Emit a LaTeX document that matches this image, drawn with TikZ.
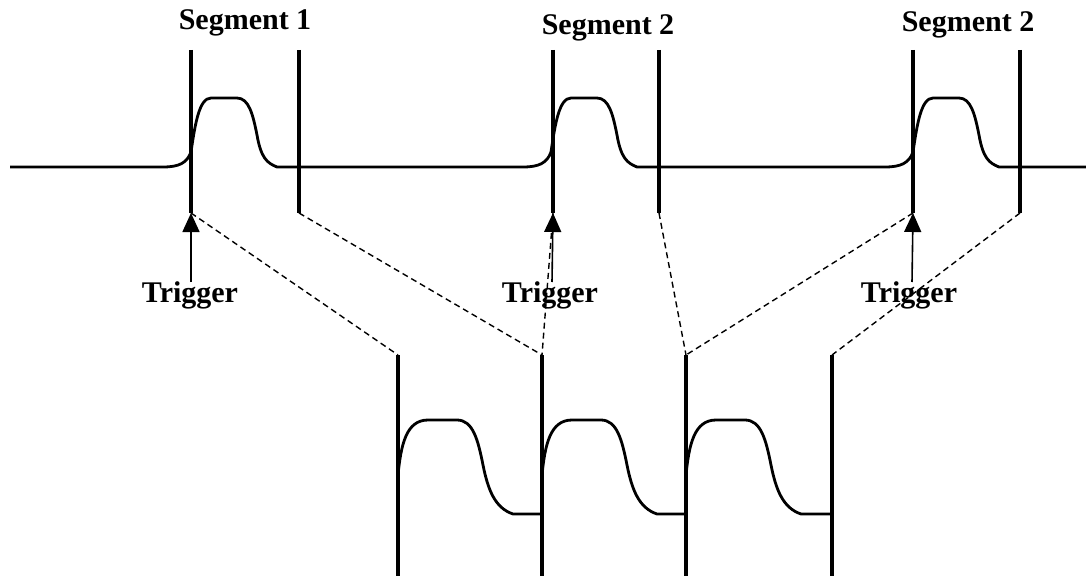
\documentclass[tikz,border=0pt]{standalone}
\usepackage{fontspec}
\setmainfont{Liberation Serif}
\usetikzlibrary{arrows.meta}
\begin{document}
\begin{tikzpicture}[x=1pt,y=-1pt,
  wave/.style={line width=2.8pt,line join=round},
  bar/.style={line width=3.2pt},
  link/.style={line width=1.4pt,dash pattern=on 6pt off 4pt},
  trig/.style={line width=1.6pt,-{Triangle[width=17pt,length=19pt]}},
  lbl/.style={font=\bfseries\fontsize{30}{32}\selectfont,anchor=base,inner sep=0pt}]
\useasboundingbox (0,0) rectangle (1086,578);
% top waveform
\newcommand{\toppulse}[1]{%
  -- (#1-28,167) .. controls (#1-12,167) and (#1-4,163) .. (#1,152)
  .. controls (#1+4,125) and (#1+8,98) .. (#1+20,98) -- (#1+46,98)
  .. controls (#1+58,98) and (#1+62,115) .. (#1+66,135)
  .. controls (#1+70,158) and (#1+76,163) .. (#1+86,167)}
\draw[wave] (10,167) \toppulse{191} \toppulse{551} \toppulse{913} -- (1086,167);
% top bars
\foreach \n/\x in {a/191,b/299,c/553,d/659,e/913,f/1020}{
  \coordinate (t\n) at (\x,50);
  \coordinate (tb\n) at (\x,213);
  \draw[bar] (t\n) -- (tb\n);
}
% bottom bars
\foreach \n/\x in {a/398,b/542,c/686,d/832}{
  \coordinate (b\n) at (\x,355);
  \coordinate (bb\n) at (\x,576);
  \draw[bar] (b\n) -- (bb\n);
}
% bottom pulses
\newcommand{\botpulse}[1]{%
  (#1,475) .. controls (#1+3,445) and (#1+8,420) .. (#1+30,420) -- (#1+59,420)
  .. controls (#1+75,420) and (#1+80,440) .. (#1+85,465)
  .. controls (#1+90,490) and (#1+97,508) .. (#1+115,514) -- (#1+144,514)}
\draw[wave] \botpulse{398};
\draw[wave] \botpulse{542};
\draw[wave] \botpulse{686};
% dashed links
\draw[link] (tba) -- (ba);
\draw[link] (tbb) -- (bb);
\draw[link] (tbc) -- (bb);
\draw[link] (tbd) -- (bc);
\draw[link] (tbe) -- (bc);
\draw[link] (tbf) -- (bd);
% triggers
\foreach \n/\x in {a/191,c/552,e/912}{
  \coordinate (g\n) at (\x,282);
  \draw[trig] (g\n) -- (tb\n);
}
\node[lbl] (s1) at (245,30) {Segment 1};
\node[lbl] (s2) at (608,35) {Segment 2};
\node[lbl] (s3) at (968,32) {Segment 2};
\node[lbl] (r1) at (190,302) {Trigger};
\node[lbl] (r2) at (550,302) {Trigger};
\node[lbl] (r3) at (909,302) {Trigger};
\end{tikzpicture}
\end{document}
